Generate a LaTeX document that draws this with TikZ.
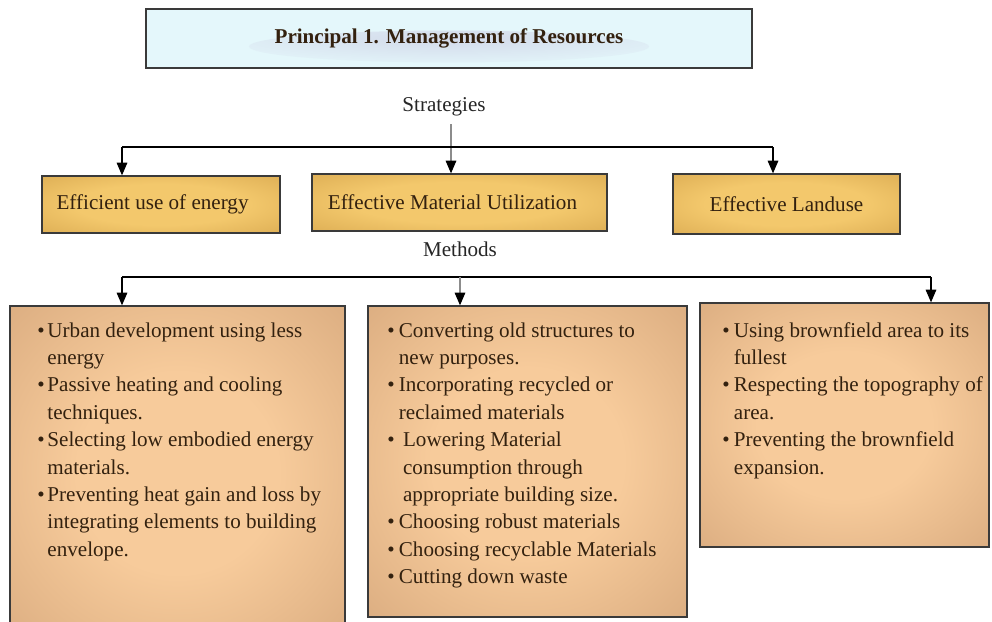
\documentclass[tikz,border=0pt]{standalone}
\usepackage{fontspec}
\setmainfont{LiberationSerif}[Extension=.ttf, UprightFont=*-Regular, BoldFont=*-Bold, ItalicFont=*-Italic, BoldItalicFont=*-BoldItalic]
\usetikzlibrary{arrows.meta}
\definecolor{goldin}{HTML}{F3C86C}
\definecolor{goldout}{HTML}{C8953E}
\definecolor{tanin}{HTML}{F7CB9B}
\definecolor{tanout}{HTML}{C3936A}
\definecolor{skyfill}{HTML}{E4F7FB}
\definecolor{glow}{HTML}{D3DAEA}
\definecolor{ink}{HTML}{33210F}
\definecolor{edgecol}{HTML}{3A3A3A}
\pgfdeclareradialshading{goldshade}{\pgfpoint{0bp}{0bp}}{color(0bp)=(goldin); color(18bp)=(goldin); color(55bp)=(goldout); color(75bp)=(goldout)}
\pgfdeclareradialshading{tanshade}{\pgfpoint{0bp}{0bp}}{color(0bp)=(tanin); color(15bp)=(tanin); color(55bp)=(tanout); color(75bp)=(tanout)}
\tikzset{
  boxbase/.style={draw=edgecol, line width=0.9pt, inner sep=0pt, text=ink},
  topbox/.style={boxbase, fill=skyfill, minimum width=15.15cm, minimum height=1.475cm,
    font=\fontsize{15}{18}\selectfont\bfseries,
    path picture={\shade[inner color=glow, outer color=skyfill]
      ([yshift=-0.2cm]path picture bounding box.center) ellipse [x radius=5cm, y radius=0.4cm];}},
  stratbox/.style={boxbase, shade, shading=goldshade, font=\fontsize{15}{18}\selectfont},
  methbox/.style={boxbase, shade, shading=tanshade},
  methtext/.style={anchor=base west, inner sep=0pt, text=ink, font=\fontsize{15}{19.5}\selectfont},
  caption/.style={inner sep=1pt, text=black!85, font=\fontsize{15}{18}\selectfont},
  arr/.style={line width=0.9pt, draw=black, -{Triangle[length=9pt,width=7.5pt]}},
  grayarr/.style={line width=0.9pt, draw=black!45, -{Triangle[length=9pt,width=7.5pt,color=black]}},
  plain/.style={line width=0.9pt, draw=black}
}
\begin{document}
\begin{tikzpicture}[x=0.025cm,y=-0.025cm]
\useasboundingbox (0,0) rectangle (992,621);
\clip (0,0) rectangle (992,621);

% title
\node[topbox] (top) at (449,38.5) {\raisebox{3pt}{Principal 1. Management of Resources}};

% captions
\node[caption] (strat) at (444,107) {Strategies};
\node[caption] (meth) at (460,249) {Methods};

% strategy boxes
\node[stratbox, minimum width=5.95cm, minimum height=1.425cm] (s1) at (161,204.5) {\hspace*{-12pt}Efficient use of energy};
\node[stratbox, minimum width=7.375cm, minimum height=1.425cm] (s2) at (459.5,202.5) {\hspace*{-10pt}Effective Material Utilization};
\node[stratbox, minimum width=5.675cm, minimum height=1.5cm] (s3) at (786.5,204) {Effective Landuse};

% method boxes
\node[methbox, minimum width=8.375cm, minimum height=8.35cm] (m1) at (177.5,473) {};
\node[methbox, minimum width=7.975cm, minimum height=7.775cm] (m2) at (527.5,461.5) {};
\node[methbox, minimum width=7.225cm, minimum height=6.1cm] (m3) at (844.5,425) {};

\node[methtext] (m1t) at (37,337) {\begin{tabular}[t]{@{}l@{\hspace{2pt}}l@{}}
\textbullet & Urban development using less\\
 & energy\\
\textbullet & Passive heating and cooling\\
 & techniques.\\
\textbullet & Selecting low embodied energy\\
 & materials.\\
\textbullet & Preventing heat gain and loss by\\
 & integrating elements to building\\
 & envelope.
\end{tabular}};

\node[methtext] (m2t) at (387,337) {\begin{tabular}[t]{@{}l@{\hspace{3pt}}l@{}}
\textbullet & Converting old structures to\\
 & new purposes.\\
\textbullet & Incorporating recycled or\\
 & reclaimed materials\\
\textbullet & \hspace{3pt}Lowering Material\\
 & \hspace{3pt}consumption through\\
 & \hspace{3pt}appropriate building size.\\
\textbullet & Choosing robust materials\\
\textbullet & Choosing recyclable Materials\\
\textbullet & Cutting down waste
\end{tabular}};

\node[methtext] (m3t) at (722,337) {\begin{tabular}[t]{@{}l@{\hspace{3pt}}l@{}}
\textbullet & Using brownfield area to its\\
 & fullest\\
\textbullet & Respecting the topography of\\
 & area.\\
\textbullet & Preventing the brownfield\\
 & expansion.
\end{tabular}};

% strategy connectors
\coordinate (sj) at (451,124);
\coordinate (h1) at (122,147);
\coordinate (h3) at (773,147);
\draw[grayarr] (sj) -- (sj |- s2.north);
\draw[plain] (h1) -- (h3);
\draw[arr] (h1) -- (h1 |- s1.north);
\draw[arr] (h3) -- (h3 |- s3.north);

% method connectors
\coordinate (g1) at (122,277);
\coordinate (g2) at (460,277);
\coordinate (g3) at (931,277);
\draw[plain] (g1) -- (g3);
\draw[arr] (g1) -- (g1 |- m1.north);
\draw[grayarr] (g2) -- (g2 |- m2.north);
\draw[arr] (g3) -- (g3 |- m3.north);
\end{tikzpicture}
\end{document}
